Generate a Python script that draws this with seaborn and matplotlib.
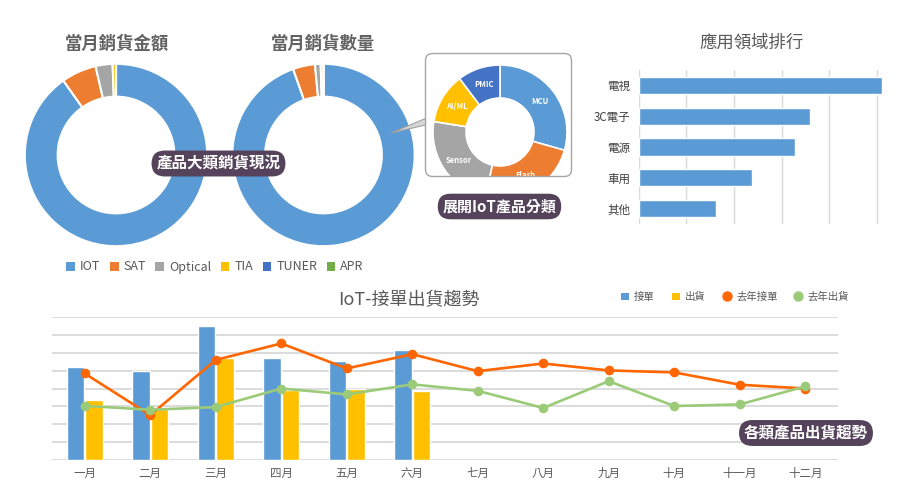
import numpy as np
import pandas as pd
import matplotlib
matplotlib.use('Agg')
import matplotlib.pyplot as plt
import seaborn as sns
from matplotlib.patches import Patch, FancyBboxPatch, Polygon
from matplotlib.lines import Line2D

sns.set_theme(style='white')
plt.rcParams['font.family'] = ['Noto Sans CJK TC', 'DejaVu Sans']

# ---------------- data ----------------
cat_names = ['IOT', 'SAT', 'Optical', 'TIA', 'TUNER', 'APR']
cat_colors = ['#5B9BD5', '#ED7D31', '#A5A5A5', '#FFC000', '#4472C4', '#70AD47']
sales_amount = [90.2, 6.2, 3.0, 0.6, 0.0, 0.0]
sales_qty = [94.6, 3.9, 1.0, 0.5, 0.0, 0.0]

iot_names = ['MCU', 'Flash', 'Sensor', 'AI/ML', 'PMIC']
iot_colors = ['#5B9BD5', '#ED7D31', '#A5A5A5', '#FFC000', '#4472C4']
iot_share = [29.4, 24.2, 23.9, 12.2, 10.3]

app_names = ['電視', '3C電子', '電源', '車用', '其他']
app_values = [5.10, 3.60, 3.28, 2.38, 1.63]

months = ['一月', '二月', '三月', '四月', '五月', '六月',
          '七月', '八月', '九月', '十月', '十一月', '十二月']
orders = [5.18, 4.97, 7.52, 5.70, 5.53, 6.14]
shipments = [3.35, 2.85, 5.70, 3.89, 3.95, 3.85]
last_year_orders = [4.84, 2.51, 5.60, 6.52, 5.12, 5.92, 4.97, 5.40, 5.01, 4.90, 4.21, 4.00]
last_year_shipments = [3.03, 2.81, 2.96, 4.00, 3.67, 4.23, 3.87, 2.91, 4.41, 3.02, 3.11, 4.12]

# ---------------- layout helpers ----------------
W, H = 904, 499
fig = plt.figure(figsize=(W / 100, H / 100), dpi=100)
fig.patch.set_facecolor('white')


def ax_px(l, t, r, b):
    return fig.add_axes([l / W, 1 - b / H, (r - l) / W, (b - t) / H])


def fxy(x, y):
    return (x / W, 1 - y / H)


TXT = '#595959'
BADGE = '#54435A'
GRID = '#D9D9D9'

# ---------------- donuts ----------------
def donut(cx, cy, r, values):
    ax = ax_px(cx - r, cy - r, cx + r, cy + r)
    ax.pie(values, colors=cat_colors, startangle=90, counterclock=False,
           radius=1, wedgeprops=dict(width=0.36, edgecolor='white', linewidth=1.5))
    ax.set_xlim(-1.02, 1.02)
    ax.set_ylim(-1.02, 1.02)
    ax.set_aspect('auto')
    ax.axis('off')
    return ax


donut(116, 155, 93, sales_amount)
donut(323.5, 155, 93, sales_qty)

fig.text(*fxy(117, 44), '當月銷貨金額', fontsize=12.5, color='#626262', fontweight='bold',
         ha='center', va='center')
fig.text(*fxy(323, 44), '當月銷貨數量', fontsize=12.5, color='#626262', fontweight='bold',
         ha='center', va='center')

handles = [Patch(facecolor=c, edgecolor='none') for c in cat_colors]
fig.legend(handles, cat_names, loc='center', bbox_to_anchor=fxy(215, 267), ncol=6,
           frameon=False, fontsize=9, handlelength=0.7, handleheight=0.7,
           handletextpad=0.4, columnspacing=0.75, labelcolor=TXT)

# ---------------- inset IoT donut ----------------
axi = ax_px(425, 53, 572, 177)
wedges, texts = axi.pie(iot_share, colors=iot_colors, startangle=90, counterclock=False,
                        radius=67, center=(75, 45), labels=iot_names, labeldistance=0.75,
                        wedgeprops=dict(width=33, edgecolor='white', linewidth=1.2),
                        textprops=dict(color='white', fontsize=5.5, fontweight='bold'))
for w in wedges:
    w.set_clip_on(True)
    w.set_clip_path(axi.patch)
for t in texts:
    t.set_ha('center')
    t.set_va('center')
    t.set_clip_on(True)
    t.set_clip_path(axi.patch)
axi.set_xlim(0, 147)
axi.set_ylim(0, 124)
axi.set_aspect('auto')
axi.axis('off')
axi.add_patch(FancyBboxPatch((0.5, 0.5), 146, 123, boxstyle='round,pad=0,rounding_size=7',
                             fc='none', ec='#A6A6A6', lw=1.0, clip_on=False, zorder=5))

pointer = Polygon([fxy(391, 133), fxy(425.5, 118.5), fxy(425.5, 125)], closed=True,
                  transform=fig.transFigure, fc='#D6D6D6', ec='#A0A0A0', lw=0.8)
fig.add_artist(pointer)

# ---------------- badges ----------------
def badge(x, y, s, fs=11):
    fig.text(*fxy(x, y), s, fontsize=fs, color='white', fontweight='bold',
             ha='center', va='center',
             bbox=dict(boxstyle='round,pad=0.32,rounding_size=0.85', fc=BADGE, ec='none'))


badge(218.5, 163.5, '產品大類銷貨現況', 11.2)
badge(499.5, 206.5, '展開IoT產品分類', 10.8)
badge(806, 433, '各類產品出貨趨勢', 11.2)

# ---------------- application ranking ----------------
axr = ax_px(638.7, 70, 882.5, 224)
sns.barplot(x=app_values, y=app_names, orient='h', color='#5B9BD5', saturation=1,
            width=0.56, ax=axr)
axr.set_xlim(0, 5.12)
axr.set_xticks(range(6))
axr.set_xticklabels([])
axr.grid(axis='x', color=GRID, lw=1)
axr.grid(axis='y', visible=False)
axr.set_axisbelow(True)
for s in axr.spines.values():
    s.set_visible(False)
axr.tick_params(axis='y', length=0, pad=6, labelsize=8.3, labelcolor='#404040')
axr.tick_params(axis='x', length=0)
axr.set_xlabel('')
axr.set_ylabel('')
fig.text(*fxy(752, 43), '應用領域排行', fontsize=12.5, color=TXT,
         ha='center', va='center')

# ---------------- IoT trend ----------------
axb = ax_px(52, 317, 838, 460)
df_bars = pd.DataFrame({
    '月份': months[:6] * 2,
    '數值': orders + shipments,
    '系列': ['接單'] * 6 + ['出貨'] * 6,
})
sns.barplot(data=df_bars, x='月份', y='數值', hue='系列', order=months,
            hue_order=['接單', '出貨'], palette=['#5B9BD5', '#FFC000'],
            saturation=1, width=0.57, gap=0.05, legend=False, ax=axb)
sns.pointplot(x=months, y=last_year_orders, order=months, color='#FF6600',
              markers='o', markersize=5.5, linewidth=1.9, errorbar=None, ax=axb)
sns.pointplot(x=months, y=last_year_shipments, order=months, color='#9BCB78',
              markers='o', markersize=5.5, linewidth=1.9, errorbar=None, ax=axb)
axb.set_xlim(-0.5, 11.5)
axb.set_ylim(0, 8)
axb.set_yticks(range(9))
axb.set_yticklabels([])
axb.grid(axis='y', color=GRID, lw=1.3)
axb.grid(axis='x', visible=False)
axb.set_axisbelow(True)
for s in axb.spines.values():
    s.set_visible(False)
axb.tick_params(axis='x', length=0, pad=5, labelsize=8.3, labelcolor=TXT)
axb.tick_params(axis='y', length=0)
axb.set_xlabel('')
axb.set_ylabel('')

fig.text(*fxy(409, 300), 'IoT-接單出貨趨勢', fontsize=13, color=TXT,
         ha='center', va='center')

leg_handles = [
    Patch(facecolor='#5B9BD5', edgecolor='none'),
    Patch(facecolor='#FFC000', edgecolor='none'),
    Line2D([], [], marker='o', linestyle='None', markerfacecolor='#FF6600',
           markeredgecolor='#FF6600', markersize=6.5),
    Line2D([], [], marker='o', linestyle='None', markerfacecolor='#9BCB78',
           markeredgecolor='#9BCB78', markersize=6.5),
]
fig.legend(leg_handles, ['接單', '出貨', '去年接單', '去年出貨'], loc='center',
           bbox_to_anchor=fxy(735, 297), ncol=4, frameon=False, fontsize=7.5,
           handlelength=0.8, handleheight=0.8, handletextpad=0.5, columnspacing=1.6,
           labelcolor=TXT)

fig.savefig('out.png', dpi=100, facecolor='white')
